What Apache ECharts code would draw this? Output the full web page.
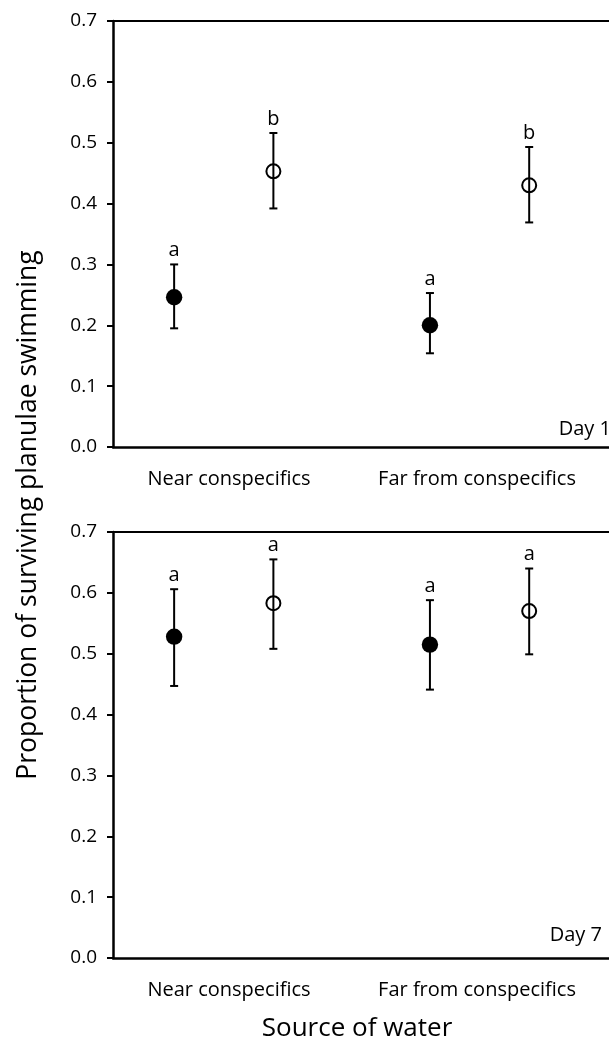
<!DOCTYPE html>
<html>
<head>
<meta charset="utf-8">
<script src="https://cdn.jsdelivr.net/npm/echarts@6/dist/echarts.min.js"></script>
<style>
html,body{margin:0;padding:0;background:#fff;}
#chart{width:609px;height:1044px;}
</style>
</head>
<body>
<div id="chart"></div>
<script>
// ---- data ----
const groups = ['Near conspecifics', 'Far from conspecifics'];
const groupPos = [1, 2];
const yTickValues = [0, 0.1, 0.2, 0.3, 0.4, 0.5, 0.6, 0.7];
const panelLabels = ['Day 1', 'Day 7'];

// Day 1
const day1FilledMean  = [0.246, 0.200];
const day1FilledUpper = [0.300, 0.253];
const day1FilledLower = [0.195, 0.154];
const day1FilledLetters = ['a', 'a'];
const day1OpenMean  = [0.453, 0.430];
const day1OpenUpper = [0.516, 0.493];
const day1OpenLower = [0.392, 0.369];
const day1OpenLetters = ['b', 'b'];

// Day 7
const day7FilledMean  = [0.528, 0.515];
const day7FilledUpper = [0.606, 0.588];
const day7FilledLower = [0.447, 0.441];
const day7FilledLetters = ['a', 'a'];
const day7OpenMean  = [0.583, 0.570];
const day7OpenUpper = [0.655, 0.640];
const day7OpenLower = [0.508, 0.499];
const day7OpenLetters = ['a', 'a'];

// ---- build ----
const FONT = '"Open Sans", "DejaVu Sans", sans-serif';
const DODGE = 0.194;
const chart = echarts.init(document.getElementById('chart'), null, {renderer: 'canvas'});

function makeData(mean, lower, upper, offset) {
  return mean.map((m, i) => [groupPos[i] + offset, m, lower[i], upper[i]]);
}

function makeSeries(gridIdx, mean, lower, upper, letters, filled) {
  return {
    type: 'custom',
    xAxisIndex: gridIdx * 2,
    yAxisIndex: gridIdx,
    data: makeData(mean, lower, upper, filled ? -DODGE : DODGE),
    silent: true,
    renderItem: function (params, api) {
      const x = api.value(0);
      const pm = api.coord([x, api.value(1)]);
      const pl = api.coord([x, api.value(2)]);
      const ph = api.coord([x, api.value(3)]);
      const cap = 4;
      const ls = {stroke: '#000', lineWidth: 2};
      return {
        type: 'group',
        children: [
          {type: 'line', shape: {x1: pm[0], y1: pl[1], x2: pm[0], y2: ph[1]}, style: ls},
          {type: 'line', shape: {x1: pm[0] - cap, y1: ph[1], x2: pm[0] + cap, y2: ph[1]}, style: ls},
          {type: 'line', shape: {x1: pm[0] - cap, y1: pl[1], x2: pm[0] + cap, y2: pl[1]}, style: ls},
          filled
            ? {type: 'circle', shape: {cx: pm[0], cy: pm[1], r: 8.2}, style: {fill: '#000'}}
            : {type: 'circle', shape: {cx: pm[0], cy: pm[1], r: 7}, style: {fill: 'none', stroke: '#000', lineWidth: 2}},
          {type: 'text', x: pm[0], y: ph[1] - 14,
           style: {text: letters[params.dataIndex], fill: '#000', font: '20px ' + FONT, align: 'center', verticalAlign: 'middle'}}
        ]
      };
    }
  };
}

const grids = [
  {left: 113, right: -10, top: 21, height: 426, show: false},
  {left: 113, right: -10, top: 532, height: 426, show: false}
];

const xAxes = [];
const yAxes = [];
[0, 1].forEach(g => {
  xAxes.push({
    type: 'value', gridIndex: g, position: 'top', min: 0.567, max: 2.506,
    axisLine: {show: true, onZero: false, lineStyle: {color: '#000', width: 2}},
    axisTick: {show: false}, axisLabel: {show: false}, splitLine: {show: false}
  });
  xAxes.push({
    type: 'category', gridIndex: g, position: 'bottom', data: groups,
    axisLine: {show: true, onZero: false, lineStyle: {color: '#000', width: 2.5}},
    axisTick: {show: false},
    axisLabel: {color: '#000', fontFamily: FONT, fontSize: 20, margin: 22, padding: [0, 16, 0, 0], interval: 0},
    splitLine: {show: false}
  });
  yAxes.push({
    type: 'value', gridIndex: g, min: 0, max: 0.7, interval: 0.1,
    axisLine: {show: true, lineStyle: {color: '#000', width: 2.5}},
    axisTick: {show: true, inside: false, length: 6, lineStyle: {color: '#000', width: 2}},
    axisLabel: {color: '#000', fontFamily: FONT, fontSize: 19, margin: 16,
                formatter: v => yTickValues.some(t => Math.abs(t - v) < 1e-9) ? v.toFixed(1) : ''},
    splitLine: {show: false}
  });
});

const option = {
  animation: false,
  backgroundColor: '#fff',
  grid: grids,
  xAxis: xAxes,
  yAxis: yAxes,
  series: [
    makeSeries(0, day1FilledMean, day1FilledLower, day1FilledUpper, day1FilledLetters, true),
    makeSeries(0, day1OpenMean, day1OpenLower, day1OpenUpper, day1OpenLetters, false),
    makeSeries(1, day7FilledMean, day7FilledLower, day7FilledUpper, day7FilledLetters, true),
    makeSeries(1, day7OpenMean, day7OpenLower, day7OpenUpper, day7OpenLetters, false)
  ],
  graphic: [
    {type: 'text', left: null, x: 611, y: 429,
     style: {text: panelLabels[0], fill: '#000', font: '20px ' + FONT, align: 'right', verticalAlign: 'middle'}},
    {type: 'text', x: 602, y: 935,
     style: {text: panelLabels[1], fill: '#000', font: '20px ' + FONT, align: 'right', verticalAlign: 'middle'}},
    {type: 'text', x: 357, y: 1029,
     style: {text: 'Source of water', fill: '#000', font: '26px ' + FONT, align: 'center', verticalAlign: 'middle'}},
    {type: 'text', x: 28, y: 515, rotation: Math.PI / 2,
     style: {text: 'Proportion of surviving planulae swimming', fill: '#000', font: '26.5px ' + FONT, align: 'center', verticalAlign: 'middle'}}
  ]
};
chart.setOption(option);
</script>
</body>
</html>
